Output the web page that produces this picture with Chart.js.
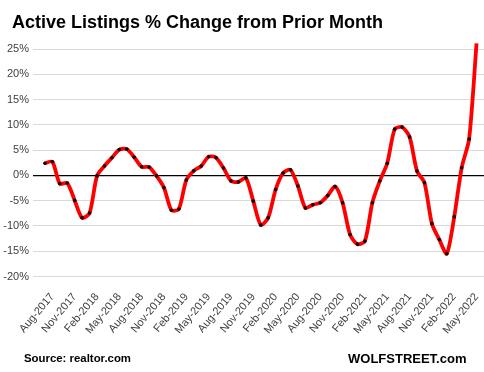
<!DOCTYPE html>
<html>
<head>
<meta charset="utf-8">
<script src="https://cdn.jsdelivr.net/npm/chart.js@4"></script>
<style>
  body { margin: 0; background: #fff; }
  #wrap { position: relative; width: 484px; height: 372px; }
  canvas { position: absolute; left: 0; top: 0; }
  .txt { position: absolute; font-family: "Liberation Sans", Arial, sans-serif; font-weight: bold; line-height: 1; white-space: nowrap; color: #000; }
  #title { left: 12px; top: 13px; font-size: 18px; }
  #source { left: 24px; top: 353px; font-size: 11.4px; }
  #brand { left: 348px; top: 352px; font-size: 13px; }
</style>
</head>
<body>
<div id="wrap">
  <canvas id="chart" width="484" height="372"></canvas>
  <div class="txt" id="title">Active Listings % Change from Prior Month</div>
  <div class="txt" id="source">Source: realtor.com</div>
  <div class="txt" id="brand">WOLFSTREET.com</div>
</div>
<script>
// months Jul-2017 .. May-2022
const months = [
  "Jul-2017", "Aug-2017", "Sep-2017", "Oct-2017", "Nov-2017", "Dec-2017",
  "Jan-2018", "Feb-2018", "Mar-2018", "Apr-2018", "May-2018", "Jun-2018",
  "Jul-2018", "Aug-2018", "Sep-2018", "Oct-2018", "Nov-2018", "Dec-2018",
  "Jan-2019", "Feb-2019", "Mar-2019", "Apr-2019", "May-2019", "Jun-2019",
  "Jul-2019", "Aug-2019", "Sep-2019", "Oct-2019", "Nov-2019", "Dec-2019",
  "Jan-2020", "Feb-2020", "Mar-2020", "Apr-2020", "May-2020", "Jun-2020",
  "Jul-2020", "Aug-2020", "Sep-2020", "Oct-2020", "Nov-2020", "Dec-2020",
  "Jan-2021", "Feb-2021", "Mar-2021", "Apr-2021", "May-2021", "Jun-2021",
  "Jul-2021", "Aug-2021", "Sep-2021", "Oct-2021", "Nov-2021", "Dec-2021",
  "Jan-2022", "Feb-2022", "Mar-2022", "Apr-2022", "May-2022"
];

// % change from prior month
const pctChange = [
  2.4, 2.7, -1.65, -1.5, -4.95, -8.4, -7.45, -0.1, 1.85, 3.5,
  5.1, 5.2, 3.6, 1.7, 1.65, -0.1, -2.45, -6.9, -6.65, -0.9,
  0.9, 1.85, 3.7, 3.5, 1.45, -1.1, -1.3, -0.5, -5.1, -9.8,
  -8.4, -2.8, 0.45, 1.1, -2.1, -6.45, -5.8, -5.4, -4.0, -2.2,
  -5.4, -11.7, -13.6, -13.0, -5.4, -1.1, 2.4, 9.15, 9.55, 7.6,
  0.85, -1.45, -9.55, -12.7, -15.5, -8.2, 1.5, 7.2, 26.1
];

// x tick labels shown (every third month)
const tickLabels = [
  "Aug-2017", "Nov-2017", "Feb-2018", "May-2018", "Aug-2018", "Nov-2018",
  "Feb-2019", "May-2019", "Aug-2019", "Nov-2019", "Feb-2020", "May-2020",
  "Aug-2020", "Nov-2020", "Feb-2021", "May-2021", "Aug-2021", "Nov-2021",
  "Feb-2022", "May-2022"
];

const yTicks = [-20, -15, -10, -5, 0, 5, 10, 15, 20, 25];

const tickFont = { family: "Liberation Sans", size: 11 };

const points = pctChange.map((v, i) => ({ x: i, y: v }));

const config = {
  type: "line",
  data: {
    datasets: [
      {
        data: points,
        borderColor: "#ff0000",
        borderWidth: 3.8,
        tension: 0.25,
        pointRadius: 1.8,
        pointBorderWidth: 0,
        pointBackgroundColor: "#000",
        clip: false,
      },
    ],
  },
  options: {
    responsive: false,
    animation: false,
    layout: { autoPadding: false, padding: { top: 49, left: 0, right: 0, bottom: 0 } },
    plugins: { legend: { display: false }, tooltip: { enabled: false } },
    scales: {
      x: {
        type: "linear",
        min: -1.6,
        max: 59,
        grid: { display: false },
        border: { display: false },
        afterBuildTicks: (axis) => {
          axis.ticks = tickLabels.map((t) => ({ value: months.indexOf(t) }));
        },
        afterFit: (axis) => {
          axis.height = 95.5;
          axis.paddingLeft = 0;
          axis.paddingRight = 0;
        },
        ticks: {
          autoSkip: false,
          maxRotation: 50,
          minRotation: 50,
          padding: 6,
          color: "#404040",
          font: tickFont,
          callback: (value) => months[value],
        },
      },
      y: {
        min: -20,
        max: 25,
        border: { display: false },
        afterBuildTicks: (axis) => {
          axis.ticks = yTicks.map((v) => ({ value: v }));
        },
        afterFit: (axis) => {
          axis.width = 33;
          axis.paddingTop = 0;
          axis.paddingBottom = 0;
        },
        grid: {
          drawTicks: false,
          color: (ctx) => (ctx.tick && ctx.tick.value === 0 ? "#000" : "#d9d9d9"),
          lineWidth: (ctx) => (ctx.tick && ctx.tick.value === 0 ? 1.3 : 1),
        },
        ticks: {
          padding: 4,
          color: "#404040",
          font: tickFont,
          callback: (value) => value + "%",
        },
      },
    },
  },
};

new Chart(document.getElementById("chart"), config);
</script>
</body>
</html>
